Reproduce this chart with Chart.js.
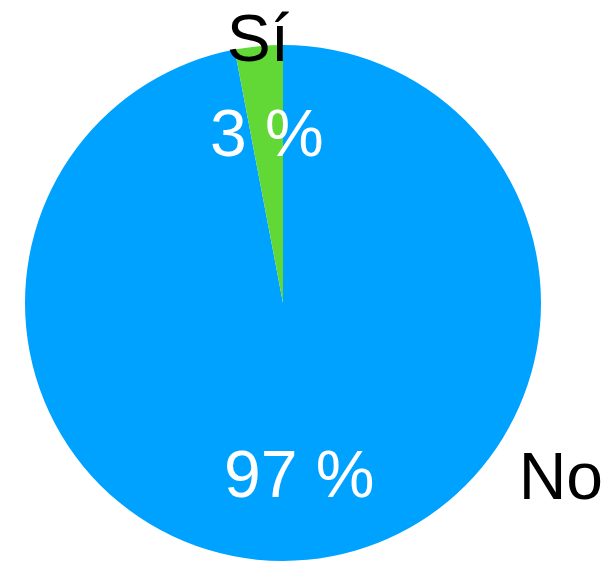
<!DOCTYPE html>
<html>
<head>
<meta charset="utf-8">
<script src="https://cdn.jsdelivr.net/npm/chart.js@4/dist/chart.umd.min.js"></script>
<style>
html,body{margin:0;padding:0;background:#fff;}
#wrap{width:615px;height:562px;position:relative;}
</style>
</head>
<body>
<div id="wrap"><canvas id="c"></canvas></div>
<script>
const categories = ["No", "Sí"];
const values = [97, 3];
const valueLabels = ["97 %", "3 %"];
const colors = ["#00A2FF", "#61D836"];

const labelPlugin = {
  id: 'pieLabels',
  afterDatasetsDraw(chart) {
    const ctx = chart.ctx;
    const meta = chart.getDatasetMeta(0);
    const fs = 66;
    ctx.save();
    ctx.font = fs + 'px "Liberation Sans", Arial, sans-serif';
    ctx.textAlign = 'center';
    ctx.textBaseline = 'alphabetic';
    meta.data.forEach((arc, i) => {
      const p = arc.getProps(['x','y','startAngle','endAngle','outerRadius'], true);
      const mid = (p.startAngle + p.endAngle) / 2;
      const r = p.outerRadius;
      // inside percentage
      const ir = 0.665 * r;
      const ix = p.x + Math.cos(mid) * ir;
      const iy = p.y + Math.sin(mid) * ir;
      ctx.fillStyle = '#ffffff';
      ctx.fillText(valueLabels[i], ix, iy + 0.358 * fs);
      // outside category label
      ctx.fillStyle = '#000000';
      let ox, oy;
      if (i === 1) {
        ox = p.x + Math.cos(mid) * 1.035 * r;
        oy = p.y + Math.sin(mid) * 1.035 * r;
      } else {
        ox = p.x + 1.077 * r;
        oy = p.y + 0.67 * r;
      }
      ctx.fillText(categories[i], ox, oy + 0.358 * fs);
    });
    ctx.restore();
  }
};

new Chart(document.getElementById('c'), {
  type: 'pie',
  data: {
    labels: categories,
    datasets: [{
      data: values,
      backgroundColor: colors,
      borderWidth: 0
    }]
  },
  options: {
    responsive: true,
    maintainAspectRatio: false,
    animation: false,
    layout: { padding: { left: 25, right: 74, top: 45, bottom: 1 } },
    plugins: { legend: { display: false }, tooltip: { enabled: false } }
  },
  plugins: [labelPlugin]
});
</script>
</body>
</html>
